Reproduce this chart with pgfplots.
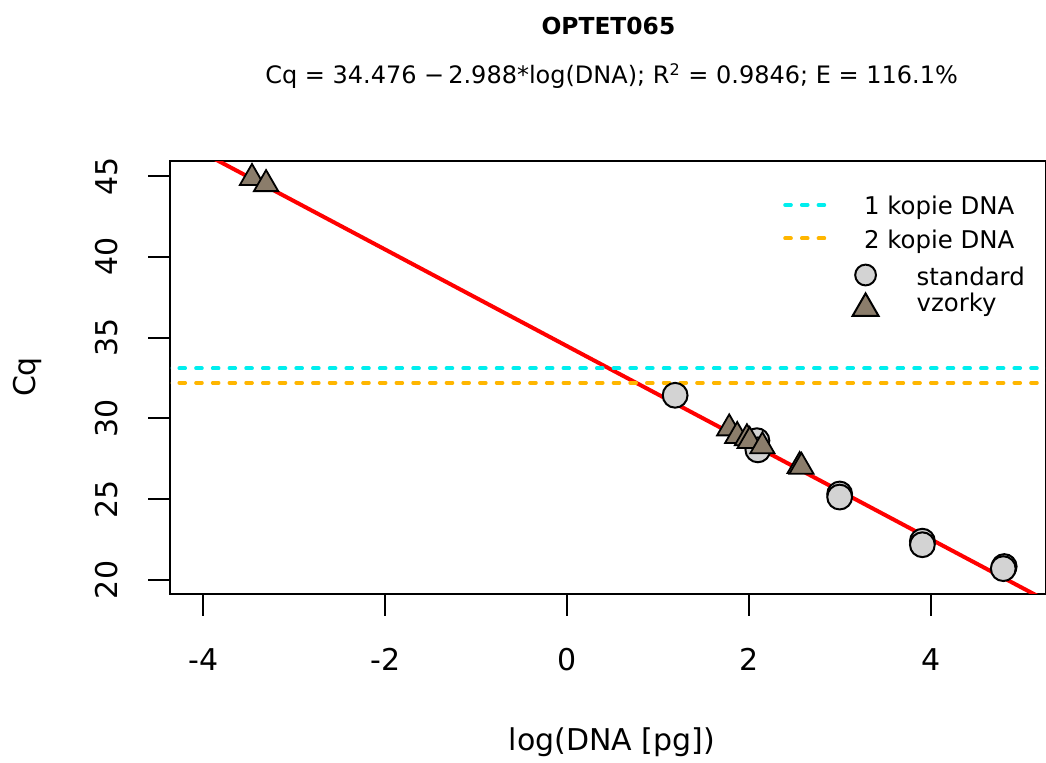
\documentclass[border=0pt]{standalone}
\usepackage{pgfplots}
\pgfplotsset{compat=1.18}
\usepackage{fontspec}
\setmainfont{DejaVu Sans}
\definecolor{cyanR}{RGB}{0,238,238}
\definecolor{orangeR}{RGB}{255,182,0}
\definecolor{bisque}{RGB}{139,125,107}
\definecolor{lgray}{RGB}{211,211,211}
\pgfplotstableread{
x y
1.19 31.43
2.09 28.62
2.10 28.05
3.00 25.32
3.00 25.13
3.91 22.40
3.91 22.18
4.81 20.83
4.80 20.70
}\standards
\pgfplotstableread{
x y
-3.465 44.88
-3.31 44.50
1.785 29.38
1.873 28.91
1.98 28.77
2.01 28.60
2.15 28.27
2.56 27.05
2.58 27.00
}\vzorky
\pgfplotsset{
  circimg/.style={legend image code/.code={\draw[##1, overlay] plot coordinates {(12.8pt,1pt)}; \path[draw=none] (0pt,0pt) -- (38.3pt,0pt);}},
  triimg/.style={legend image code/.code={\draw[##1, overlay] plot coordinates {(12.8pt,-2.35pt)}; \path[draw=none] (0pt,0pt) -- (38.3pt,0pt);}},
  lineimg/.style={legend image code/.code={\draw[##1, overlay] (0pt,1pt) -- (20.5pt,1pt); \path[draw=none] (0pt,0pt) -- (39.5pt,0pt);}},
  common/.style={
    at={(85pt,84pt)}, anchor=south west,
    width=438pt, height=216.5pt, scale only axis,
    xmin=-4.367, xmax=5.27, ymin=19.13, ymax=45.93,
  },
  lgd/.style={
    legend cell align=left,
    legend style={draw=none, fill=none, inner sep=0pt, outer sep=0pt,
      font=\fontsize{12.2}{14}\selectfont,
      nodes={inner sep=0pt, text height=11pt, text depth=3pt}},
  }
}
\begin{document}
\begin{tikzpicture}
\begin{axis}[common, lgd, lineimg,
  xtick={-4,-2,0,2,4}, ytick={20,25,30,35,40,45},
  tick align=outside, major tick length=11pt,
  xtick pos=left, ytick pos=left,
  axis line style={line width=1pt},
  every tick/.style={black, line width=1pt},
  /pgf/number format/assume math mode=true,
  ticklabel style={font=\fontsize{15}{18}\selectfont},
  xticklabel style={anchor=base, yshift=-27pt},
  yticklabel style={xshift=-15.5pt, rotate=90, anchor=base},
  legend style={at={(axis description cs:0.7021,0.9261)}, anchor=north west,
    row sep=2.65pt},
]
\addplot[only marks, mark=*, mark size=6.2pt,
  mark options={fill=lgray, draw=black, line width=1pt}, forget plot] table {\standards};
\addplot[red, line width=2pt, forget plot] coordinates {(-5,49.416) (6,16.548)};
\addplot[only marks, mark=triangle*, mark size=7pt,
  mark options={fill=bisque, draw=black, line width=0.9pt}, forget plot] table {\vzorky};
\addplot[cyanR, line width=1.8pt, line cap=round, dash pattern=on 3pt off 5.35pt] coordinates {(-5,33.10) (6,33.10)};
\addlegendentry{1 kopie DNA}
\addplot[orangeR, line width=1.8pt, line cap=round, dash pattern=on 3pt off 5.35pt] coordinates {(-5,32.20) (6,32.20)};
\addlegendentry{2 kopie DNA}
\end{axis}
\begin{axis}[common, lgd, hide axis,
  legend style={at={(axis description cs:0.7648,0.7644)}, anchor=north west,
    row sep=-0.65pt},
]
\addlegendimage{circimg, only marks, mark=*, mark size=5.2pt, mark options={fill=lgray, draw=black, line width=1pt}}
\addlegendentry{standard}
\addlegendimage{triimg, only marks, mark=triangle*, mark size=7.5pt, mark options={fill=bisque, draw=black, line width=1pt}}
\addlegendentry{vzorky}
\end{axis}
\node[anchor=base, font=\fontsize{11.7}{14}\selectfont\bfseries] at (304.2pt,363.5pt) {OPTET065};
\node[anchor=base, font=\fontsize{12}{14}\selectfont] at (305.8pt,339pt) {Cq = 34.476 −\,2.988*log(DNA); R\textsuperscript{2} = 0.9846; E = 116.1\%};
\node[anchor=base, font=\fontsize{15}{18}\selectfont] at (306pt,6pt) {log(DNA [pg])};
\node[anchor=base, rotate=90, font=\fontsize{15}{18}\selectfont] at (17.5pt,192.5pt) {Cq};
\pgfresetboundingbox
\useasboundingbox (0pt,0pt) rectangle (523pt,381pt);
\end{tikzpicture}
\end{document}
